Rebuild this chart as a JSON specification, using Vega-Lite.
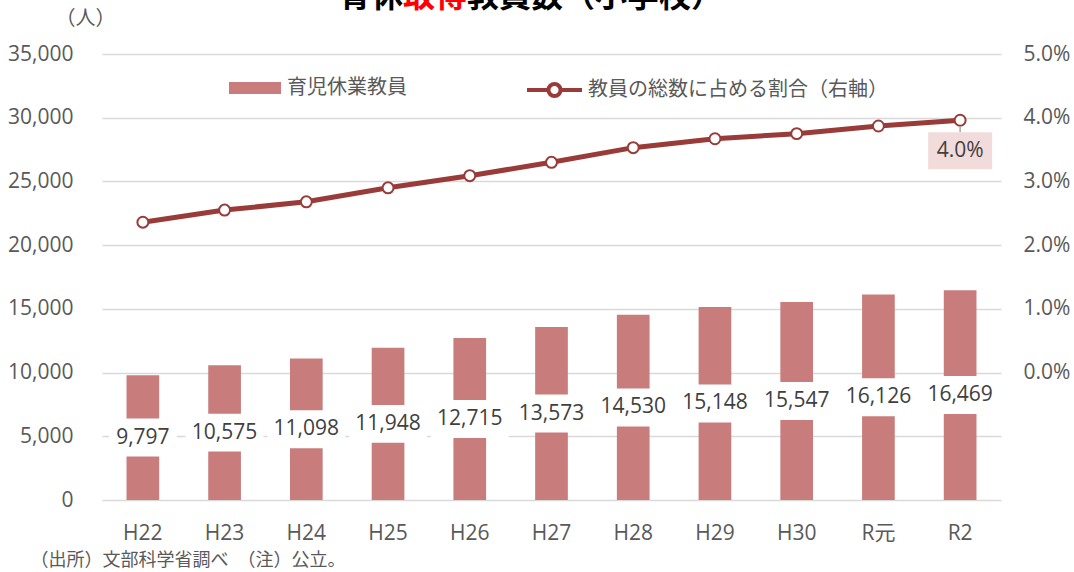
{
  "$schema": "https://vega.github.io/schema/vega-lite/v6.json",
  "autosize": "none",
  "width": 899,
  "height": 446,
  "padding": {"left": 102, "top": 54, "right": 73, "bottom": 72},
  "background": "white",
  "title": {
    "text": "育休　　教員数（小学校）",
    "subtitle": "\u200d　　取得",
    "anchor": "start",
    "frame": "group",
    "dx": 237,
    "offset": -6,
    "font": "Noto Sans CJK JP",
    "fontSize": 32,
    "fontWeight": "bold",
    "color": "#000000",
    "subtitleFont": "Noto Sans CJK JP",
    "subtitleFontSize": 32,
    "subtitleFontWeight": "bold",
    "subtitleColor": "#FF0000",
    "subtitlePadding": -32
  },
  "config": {
    "view": {"stroke": null},
    "font": "Open Sans, Noto Sans CJK JP",
    "axisX": {
      "labelAngle": 0,
      "labelFontSize": 21,
      "labelColor": "#595959",
      "labelFont": "Open Sans, Noto Sans CJK JP",
      "labelPadding": 22,
      "domain": false,
      "ticks": false
    }
  },
  "data": {
    "values": [
      {"year": "H22", "count": 9797, "ratio": 0.0236},
      {"year": "H23", "count": 10575, "ratio": 0.0255},
      {"year": "H24", "count": 11098, "ratio": 0.0268},
      {"year": "H25", "count": 11948, "ratio": 0.0290},
      {"year": "H26", "count": 12715, "ratio": 0.0309},
      {"year": "H27", "count": 13573, "ratio": 0.0330},
      {"year": "H28", "count": 14530, "ratio": 0.0353},
      {"year": "H29", "count": 15148, "ratio": 0.0367},
      {"year": "H30", "count": 15547, "ratio": 0.0375},
      {"year": "R元", "count": 16126, "ratio": 0.0387},
      {"year": "R2", "count": 16469, "ratio": 0.0396}
    ]
  },
  "resolve": {"scale": {"y": "independent"}, "axis": {"y": "independent"}},
  "layer": [
    {
      "mark": {"type": "bar", "color": "#C97C7C"},
      "encoding": {
        "x": {
          "field": "year", "type": "nominal", "sort": null,
          "scale": {"paddingInner": 0.6, "paddingOuter": 0.3},
          "axis": {
            "title": "（出所）文部科学省調べ　（注）公立。",
            "titleX": -72, "titleY": 60, "titleAlign": "left", "titleBaseline": "middle",
            "titleFontSize": 18, "titleFontWeight": "normal", "titleColor": "#595959",
            "titleFont": "Noto Sans CJK JP"
          }
        },
        "y": {
          "field": "count", "type": "quantitative",
          "scale": {"domain": [0, 35000], "nice": false},
          "axis": {
            "orient": "left",
            "title": "（人）", "titleAngle": 0, "titleX": -17, "titleY": -36,
            "titleAlign": "center", "titleBaseline": "middle",
            "titleFontSize": 20, "titleFontWeight": "normal", "titleColor": "#595959",
            "titleFont": "Noto Sans CJK JP",
            "values": [0, 5000, 10000, 15000, 20000, 25000, 30000, 35000],
            "format": ",.0f",
            "labelFontSize": 21, "labelColor": "#595959", "labelPadding": 29,
            "labelFont": "Open Sans",
            "domain": false, "ticks": false,
            "grid": true, "gridColor": "#D9D9D9", "gridWidth": 1.5
          }
        },
        "color": {
          "datum": "育児休業教員",
          "scale": {"range": ["#C97C7C"]},
          "legend": {
            "orient": "none", "legendX": 127, "legendY": 8,
            "title": null, "padding": 0,
            "symbolType": "M-1,-0.23H1V0.23H-1Z", "symbolSize": 2704,
            "symbolStrokeWidth": 0, "symbolOpacity": 1,
            "labelFontSize": 20, "labelFont": "Noto Sans CJK JP",
            "labelColor": "#595959", "labelOffset": 6, "labelLimit": 400
          }
        }
      }
    },
    {
      "layer": [
        {
          "mark": {"type": "point", "filled": true, "opacity": 1, "color": "white", "strokeWidth": 0},
          "encoding": {
            "x": {"field": "year", "type": "nominal", "sort": null},
            "y": {
              "field": "count", "type": "quantitative",
              "scale": {"domain": [0, 70000], "nice": false}, "axis": null
            },
            "shape": {
              "condition": {"test": "datum.count < 10000", "value": "M-1,-0.559H1V0.559H-1Z"},
              "value": "M-1,-0.487H1V0.487H-1Z"
            },
            "size": {
              "condition": {"test": "datum.count < 10000", "value": 4624},
              "value": 6084
            }
          }
        },
        {
          "mark": {"type": "text", "fontSize": 21, "color": "#404040", "baseline": "middle", "font": "Open Sans"},
          "encoding": {
            "x": {"field": "year", "type": "nominal", "sort": null},
            "y": {"field": "count", "type": "quantitative"},
            "text": {"field": "count", "type": "quantitative", "format": ",.0f"}
          }
        }
      ]
    },
    {
      "layer": [
        {
          "mark": {"type": "line", "strokeWidth": 5},
          "encoding": {
            "x": {"field": "year", "type": "nominal", "sort": null},
            "y": {
              "field": "ratio", "type": "quantitative",
              "scale": {"domain": [-0.02, 0.05], "nice": false},
              "axis": {
                "orient": "right", "title": null,
                "values": [0, 0.01, 0.02, 0.03, 0.04, 0.05],
                "format": ".1%",
                "labelFontSize": 21, "labelColor": "#595959", "labelPadding": 22,
                "labelFont": "Open Sans",
                "domain": false, "ticks": false, "grid": false
              }
            },
            "stroke": {
              "datum": "教員の総数に占める割合（右軸）",
              "scale": {"range": ["#993B39"]},
              "legend": {
                "orient": "none", "legendX": 423, "legendY": 6.5,
                "title": null, "padding": 0,
                "symbolType": "M-1,0H-0.22M0.22,0H1M0.22,0A0.22,0.22 0 1 1 -0.22,0A0.22,0.22 0 1 1 0.22,0",
                "symbolSize": 3025,
                "symbolStrokeWidth": 4,
                "labelFontSize": 20, "labelFont": "Noto Sans CJK JP",
                "labelColor": "#595959", "labelOffset": 4, "labelLimit": 400,
                "encode": {"symbols": {"update": {"fill": {"value": "white"}, "fillOpacity": {"value": 1}}}}
              }
            }
          }
        },
        {
          "mark": {"type": "point", "filled": true, "opacity": 1, "fill": "white", "stroke": "#993B39", "strokeWidth": 2, "size": 120},
          "encoding": {
            "x": {"field": "year", "type": "nominal", "sort": null},
            "y": {"field": "ratio", "type": "quantitative"}
          }
        },
        {
          "transform": [{"filter": "datum.year === 'R2'"}],
          "mark": {"type": "point", "filled": false, "opacity": 1, "stroke": "#A6A6A6", "strokeWidth": 1.5, "shape": "M0,0.5V1", "size": 576},
          "encoding": {
            "x": {"field": "year", "type": "nominal", "sort": null},
            "y": {"field": "ratio", "type": "quantitative"}
          }
        },
        {
          "transform": [{"filter": "datum.year === 'R2'"}],
          "mark": {"type": "point", "filled": true, "opacity": 1, "color": "#F2DCDB", "strokeWidth": 0, "shape": "M-1,-0.578H1V0.578H-1Z", "size": 4096, "yOffset": 30.5},
          "encoding": {
            "x": {"field": "year", "type": "nominal", "sort": null},
            "y": {"field": "ratio", "type": "quantitative"}
          }
        },
        {
          "transform": [{"filter": "datum.year === 'R2'"}],
          "mark": {"type": "text", "fontSize": 21, "color": "#404040", "baseline": "middle", "font": "Open Sans", "yOffset": 30.5},
          "encoding": {
            "x": {"field": "year", "type": "nominal", "sort": null},
            "y": {"field": "ratio", "type": "quantitative"},
            "text": {"field": "ratio", "type": "quantitative", "format": ".1%"}
          }
        }
      ]
    }
  ]
}
